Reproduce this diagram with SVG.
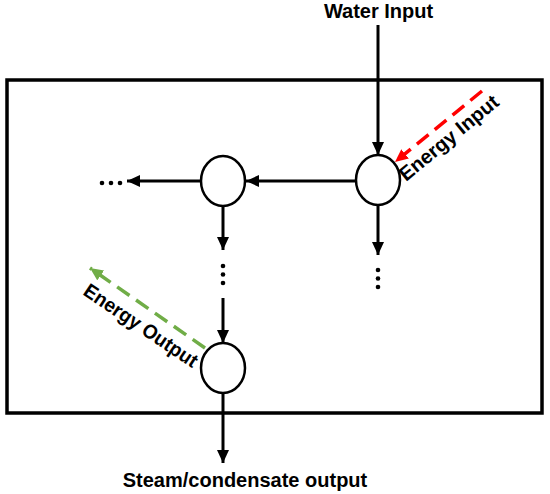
<svg xmlns="http://www.w3.org/2000/svg" width="550" height="494" viewBox="0 0 550 494">
<style>
.lbl{font-family:"Liberation Sans",Arial,sans-serif;font-weight:bold;fill:#000;font-size:20px}
.node{fill:#fff;stroke:#000;stroke-width:2.5}
.conn{stroke:#000;stroke-width:3;fill:none}
.dot{fill:#000}
</style>
<defs>
<marker id="ah" markerUnits="userSpaceOnUse" markerWidth="14" markerHeight="12" refX="13" refY="6" orient="auto"><path d="M0,0 L13,6 L0,12 Z" fill="#000"/></marker>
<marker id="ahr" markerUnits="userSpaceOnUse" markerWidth="14" markerHeight="12" refX="13" refY="6" orient="auto"><path d="M0,0 L13,6 L0,12 Z" fill="#FF0000"/></marker>
<marker id="ahg" markerUnits="userSpaceOnUse" markerWidth="14" markerHeight="12" refX="13" refY="6" orient="auto"><path d="M0,0 L13,6 L0,12 Z" fill="#70AD47"/></marker>
</defs>
<rect id="boundary" x="7" y="80" width="535" height="333" fill="none" stroke="#000" stroke-width="3.5"/>
<g id="connectors">
<line class="conn" x1="378" y1="25" x2="378" y2="155" marker-end="url(#ah)"/>
<line class="conn" x1="356" y1="181" x2="246" y2="181" marker-end="url(#ah)"/>
<line class="conn" x1="200" y1="181" x2="127" y2="181" marker-end="url(#ah)"/>
<line class="conn" x1="378" y1="206" x2="378" y2="255" marker-end="url(#ah)"/>
<line class="conn" x1="223" y1="206" x2="223" y2="250" marker-end="url(#ah)"/>
<line class="conn" x1="223" y1="298" x2="223" y2="343" marker-end="url(#ah)"/>
<line class="conn" x1="223" y1="393" x2="223" y2="463" marker-end="url(#ah)"/>
<line x1="482" y1="91" x2="395" y2="162" stroke="#FF0000" stroke-width="3.5" stroke-dasharray="15,8" marker-end="url(#ahr)"/>
<line x1="205" y1="348" x2="90" y2="268" stroke="#70AD47" stroke-width="3.5" stroke-dasharray="15,8" marker-end="url(#ahg)"/>
</g>
<g id="dots">
<circle class="dot" cx="102" cy="183" r="2.3"/><circle class="dot" cx="111" cy="183" r="2.3"/><circle class="dot" cx="120" cy="183" r="2.3"/>
<circle class="dot" cx="223" cy="266" r="2.3"/><circle class="dot" cx="223" cy="274.5" r="2.3"/><circle class="dot" cx="223" cy="283" r="2.3"/>
<circle class="dot" cx="378" cy="270" r="2.3"/><circle class="dot" cx="378" cy="278.5" r="2.3"/><circle class="dot" cx="378" cy="287" r="2.3"/>
</g>
<g id="node-input"><ellipse class="node" cx="378" cy="180" rx="22" ry="25"/></g>
<g id="node-middle"><ellipse class="node" cx="223" cy="181" rx="22" ry="25"/></g>
<g id="node-output"><ellipse class="node" cx="223" cy="368" rx="22" ry="25"/></g>
<g id="labels">
<text class="lbl" x="378.5" y="18" text-anchor="middle">Water Input</text>
<text class="lbl" x="245" y="487" text-anchor="middle">Steam/condensate output</text>
<text class="lbl" transform="translate(406,182) rotate(-39.5)">Energy Input</text>
<text class="lbl" transform="translate(82,294) rotate(34)" textLength="133" lengthAdjust="spacingAndGlyphs">Energy Output</text>
</g>
</svg>
